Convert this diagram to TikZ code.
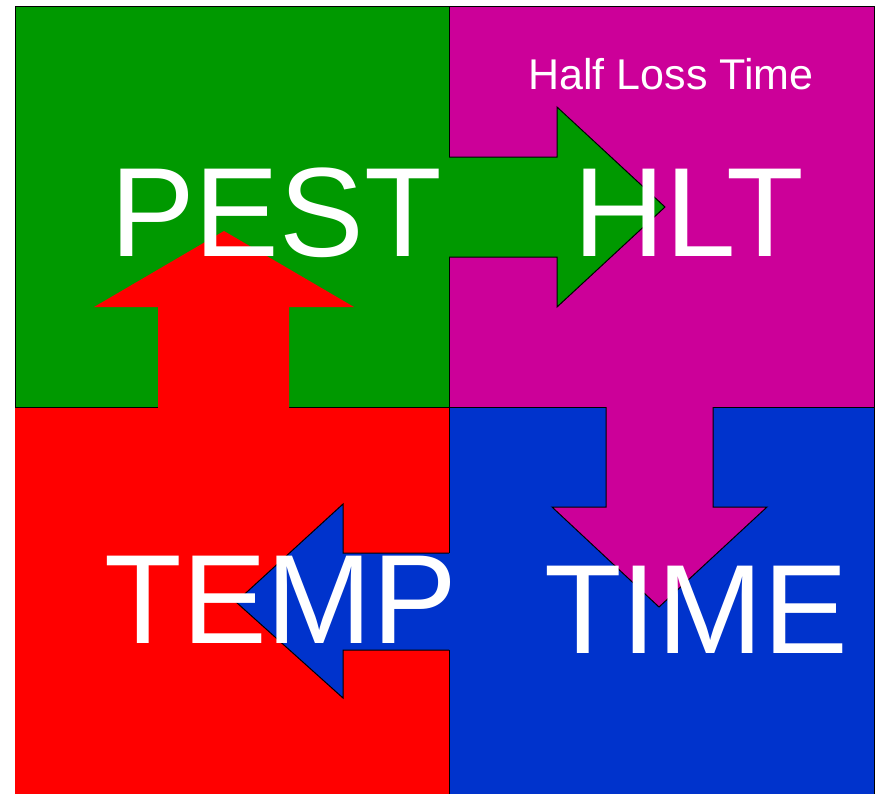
\documentclass[tikz,border=0pt]{standalone}
\usepackage{fontspec}
\setmainfont{Liberation Sans}
\definecolor{qGreen}{HTML}{009900}
\definecolor{qMag}{HTML}{CC0099}
\definecolor{qRed}{HTML}{FF0000}
\definecolor{qBlue}{HTML}{0033CC}
\tikzset{
  qd/.style  = {draw=black, line width=1pt},
  ar/.style  = {draw=black, line width=1pt, line join=miter},
  big/.style = {text=white, anchor=base, inner sep=0pt,
                font=\fontsize{127}{127}\selectfont},
  sub/.style = {text=white, anchor=base, inner sep=0pt,
                font=\fontsize{43}{43}\selectfont},
}

\begin{document}
\begin{tikzpicture}[x=1pt, y=-1pt]
  \clip (0,0) rectangle (878,793);
  % quadrants
  \fill[qRed] (15,407) rectangle (449,800);
  \draw[qd, fill=qBlue] (449,407) rectangle (874,800);
  \draw[qd, fill=qGreen] (15,6) rectangle (449,407);
  \draw[qd, fill=qMag] (449,6) rectangle (874,407);
  % red arrow: up into PEST
  \fill[qRed] (158,409) -- (158,307) -- (94,307) -- (224,231) -- (354,307)
    -- (289,307) -- (289,409) -- cycle;
  % green arrow: right into HLT
  \fill[qGreen] (447,157) -- (557,157) -- (557,107) -- (665,207) -- (557,307)
    -- (557,257) -- (447,257) -- cycle;
  \draw[ar] (449,157) -- (557,157) -- (557,107) -- (665,207) -- (557,307)
    -- (557,257) -- (449,257);
  % magenta arrow: down into TIME
  \fill[qMag] (606,405) -- (606,507) -- (552,507) -- (659,607) -- (767,507)
    -- (713,507) -- (713,405) -- cycle;
  \draw[ar] (606,407) -- (606,507) -- (552,507) -- (659,607) -- (767,507)
    -- (713,507) -- (713,407);
  % blue arrow: left into TEMP
  \fill[qBlue] (451,553) -- (343,553) -- (343,504) -- (236,602) -- (343,698)
    -- (343,650) -- (451,650) -- cycle;
  \draw[ar] (449,553) -- (343,553) -- (343,504) -- (236,602) -- (343,698)
    -- (343,650) -- (449,650);
  % labels
  \node[big] (pest) at (276,256) {PEST};
  \node[big] (hlt)  at (689,256) {HLT};
  \node[big] (temp) at (281,643) {TEMP};
  \node[big] (time) at (696,653) {TIME};
  \node[sub] (half) at (671,89) {Half Loss Time};
\end{tikzpicture}
\end{document}
